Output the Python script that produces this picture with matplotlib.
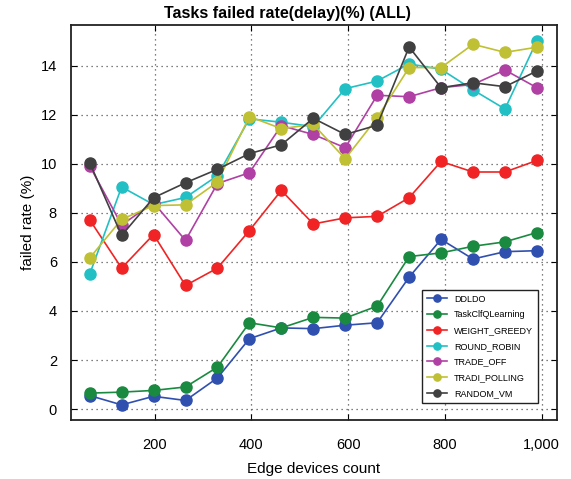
import matplotlib
matplotlib.use("Agg")
import matplotlib.pyplot as plt
import matplotlib.ticker as mticker

plt.rcParams['font.family'] = ['Liberation Sans', 'DejaVu Sans']

# edge device counts on x axis
devices = [66, 132, 198, 264, 330, 396, 462, 528, 594, 660, 726, 792, 858, 924, 990]

# failed rate (%) per algorithm
ddldo = [0.55, 0.17, 0.52, 0.35, 1.27, 2.87, 3.31, 3.28, 3.42, 3.52, 5.38, 6.92, 6.12, 6.42, 6.46]
taskclf = [0.65, 0.69, 0.76, 0.90, 1.71, 3.52, 3.31, 3.74, 3.71, 4.20, 6.22, 6.37, 6.64, 6.82, 7.20]
weight_greedy = [7.72, 5.75, 7.12, 5.04, 5.75, 7.28, 8.92, 7.55, 7.80, 7.86, 8.62, 10.10, 9.67, 9.67, 10.14]
round_robin = [5.50, 9.06, 8.34, 8.63, 9.52, 11.84, 11.70, 11.52, 13.07, 13.38, 14.08, 13.86, 13.02, 12.24, 15.02]
trade_off = [9.92, 7.51, 8.42, 6.88, 9.20, 9.64, 11.56, 11.20, 10.66, 12.80, 12.74, 13.11, 13.24, 13.83, 13.11]
tradi_polling = [6.16, 7.74, 8.30, 8.33, 9.26, 11.93, 11.44, 11.61, 10.21, 11.88, 13.93, 13.93, 14.88, 14.55, 14.76]
random_vm = [10.05, 7.08, 8.62, 9.23, 9.78, 10.42, 10.78, 11.86, 11.20, 11.58, 14.77, 13.11, 13.31, 13.15, 13.79]

series = [
    ("DDLDO", ddldo, "#3050b0"),
    ("TaskClfQLearning", taskclf, "#1a8a40"),
    ("WEIGHT_GREEDY", weight_greedy, "#f02424"),
    ("ROUND_ROBIN", round_robin, "#22c0c4"),
    ("TRADE_OFF", trade_off, "#b040a4"),
    ("TRADI_POLLING", tradi_polling, "#c0c034"),
    ("RANDOM_VM", random_vm, "#404040"),
]

fig = plt.figure(figsize=(5.71, 4.79), dpi=100)
ax = fig.add_axes([0.124, 0.123, 0.851, 0.825])

for name, vals, col in series:
    ax.plot(devices, vals, "-o", color=col, label=name, lw=1.2, ms=8)

ax.set_xlim(27, 1031)
ax.set_ylim(-0.45, 15.67)
ax.set_xticks([200, 400, 600, 800, 1000])
ax.set_yticks([0, 2, 4, 6, 8, 10, 12, 14])
ax.xaxis.set_major_formatter(mticker.FuncFormatter(lambda v, p: f"{int(v):,}"))
ax.tick_params(direction="in", top=True, right=True, labelsize=10.5, length=4)
ax.tick_params(axis="x", pad=13)
ax.tick_params(axis="y", pad=10)
ax.grid(True, linestyle=(0, (1, 3)), color="#555555", lw=0.9)
for s in ax.spines.values():
    s.set_linewidth(1.3)
    s.set_color("#222222")

fig.suptitle("Tasks failed rate(delay)(%) (ALL)", x=0.503, y=0.987, fontsize=11.5, fontweight="bold")
ax.set_xlabel("Edge devices count", fontsize=11, labelpad=7)
ax.set_ylabel("failed rate (%)", fontsize=11, labelpad=4)

leg = ax.legend(loc="lower right", bbox_to_anchor=(0.961, 0.043), borderaxespad=0,
                fontsize=6.5, fancybox=False, edgecolor="#222222", framealpha=1,
                handlelength=2.3, markerscale=0.65, labelspacing=0.75, borderpad=0.55,
                handletextpad=0.7)
leg.get_frame().set_linewidth(1.0)

fig.savefig("out.png", dpi=100)
